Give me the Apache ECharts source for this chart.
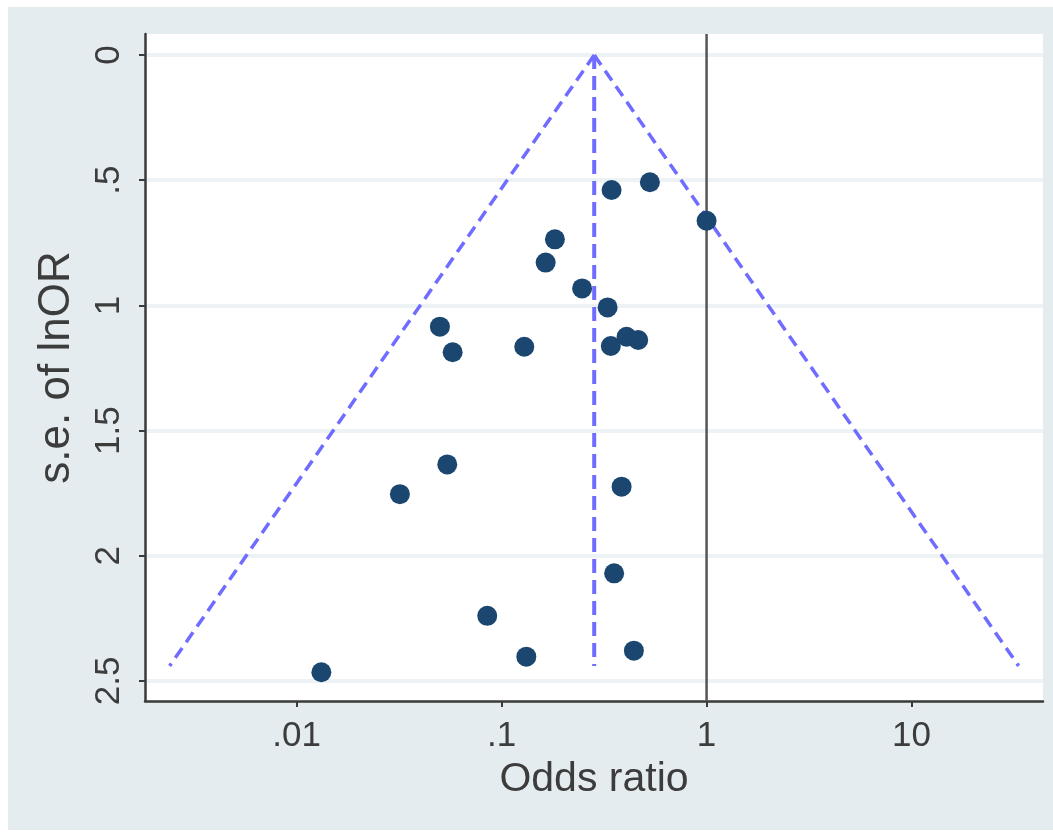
<!DOCTYPE html>
<html>
<head>
<meta charset="utf-8">
<script src="https://cdn.jsdelivr.net/npm/echarts@6/dist/echarts.min.js"></script>
<style>
  html, body { margin: 0; padding: 0; background: #ffffff; }
  #chart { position: absolute; left: 8px; top: 7px; width: 1045px; height: 823px; }
</style>
</head>
<body>
<div id="chart"></div>
<script>
// Study estimates: odds ratio and standard error of ln(OR)
const oddsRatio = [0.529, 0.344, 1.0, 0.182, 0.164, 0.247, 0.329, 0.0500, 0.0577, 0.129, 0.341,
                   0.407, 0.464, 0.0543, 0.0319, 0.385, 0.354, 0.0851, 0.132, 0.442, 0.0132];
const seLnOR    = [0.508, 0.539, 0.662, 0.736, 0.829, 0.932, 1.008, 1.085, 1.187, 1.165, 1.162,
                   1.125, 1.138, 1.635, 1.754, 1.724, 2.070, 2.240, 2.403, 2.379, 2.465];
// Pooled estimate and pseudo 95% confidence limits (funnel)
const pooledOR = 0.283;
const funnelSE = [0, 2.44];
const funnelLeftOR = [0.283, 0.0024];
const funnelRightOR = [0.283, 33.3];
const nullOR = 1;
// Axis ticks
const xTicks = [0.01, 0.1, 1, 10];
const xTickLabels = ['.01', '.1', '1', '10'];
const yTicks = [0, 0.5, 1, 1.5, 2, 2.5];
const yTickLabels = ['0', '.5', '1', '1.5', '2', '2.5'];

const points = oddsRatio.map((v, i) => [v, seLnOR[i]]);
const leftLine = funnelSE.map((s, i) => [funnelLeftOR[i], s]);
const rightLine = funnelSE.map((s, i) => [funnelRightOR[i], s]);
const pooledLine = funnelSE.map(s => [pooledOR, s]);

const textColor = '#3c3c3c';
const font = 'Liberation Sans, Arial, sans-serif';

const chart = echarts.init(document.getElementById('chart'), null, { renderer: 'canvas' });
chart.setOption({
  backgroundColor: '#e4ecef',
  animation: false,
  grid: {
    left: 137, top: 27, width: 898, height: 667,
    show: true, backgroundColor: '#ffffff', borderWidth: 0
  },
  xAxis: {
    type: 'log',
    logBase: 10,
    min: 0.00182,
    max: 43.8,
    name: 'Odds ratio',
    nameLocation: 'middle',
    nameGap: 58,
    nameTextStyle: { fontSize: 41, color: textColor, fontFamily: font },
    axisLine: { show: true, onZero: false, lineStyle: { color: '#3a3a3a', width: 2.5 } },
    axisTick: { show: true, length: 6, customValues: xTicks, lineStyle: { color: '#3a3a3a', width: 2 } },
    axisLabel: {
      customValues: xTicks,
      margin: 18,
      fontSize: 35,
      color: textColor,
      fontFamily: font,
      formatter: v => { const i = xTicks.findIndex(t => Math.abs(t - v) / t < 1e-6); return i >= 0 ? xTickLabels[i] : ''; }
    },
    splitLine: { show: false },
    minorTick: { show: false },
    minorSplitLine: { show: false }
  },
  yAxis: {
    type: 'value',
    inverse: true,
    min: -0.084,
    max: 2.58,
    name: 's.e. of lnOR',
    nameLocation: 'middle',
    nameGap: 66,
    nameRotate: 90,
    nameTextStyle: { fontSize: 44, color: textColor, fontFamily: font },
    axisLine: { show: true, onZero: false, lineStyle: { color: '#3a3a3a', width: 2.5 } },
    axisTick: { show: true, length: 6, customValues: yTicks, lineStyle: { color: '#3a3a3a', width: 2 } },
    axisLabel: {
      customValues: yTicks,
      rotate: 90,
      margin: 18,
      fontSize: 35,
      color: textColor,
      fontFamily: font,
      formatter: v => { const i = yTicks.findIndex(t => Math.abs(t - v) < 1e-6); return i >= 0 ? yTickLabels[i] : ''; }
    },
    splitLine: { show: true, lineStyle: { color: '#edf3f4', width: 4 } }
  },
  series: [
    {
      type: 'line',
      data: [[nullOR, -0.084], [nullOR, 2.58]],
      symbol: 'none',
      lineStyle: { color: '#555555', width: 2.5 },
      z: 2
    },
    {
      type: 'line',
      data: leftLine,
      symbol: 'none',
      lineStyle: { color: '#6f6cff', width: 3.5, type: [12, 7] },
      z: 3
    },
    {
      type: 'line',
      data: rightLine,
      symbol: 'none',
      lineStyle: { color: '#6f6cff', width: 3.5, type: [12, 7] },
      z: 3
    },
    {
      type: 'line',
      data: pooledLine,
      symbol: 'none',
      lineStyle: { color: '#6f6cff', width: 4, type: [14, 7] },
      z: 3
    },
    {
      type: 'scatter',
      data: points,
      symbol: 'circle',
      symbolSize: 20,
      itemStyle: { color: '#1b4670', opacity: 1 },
      z: 4
    }
  ]
});
</script>
</body>
</html>
